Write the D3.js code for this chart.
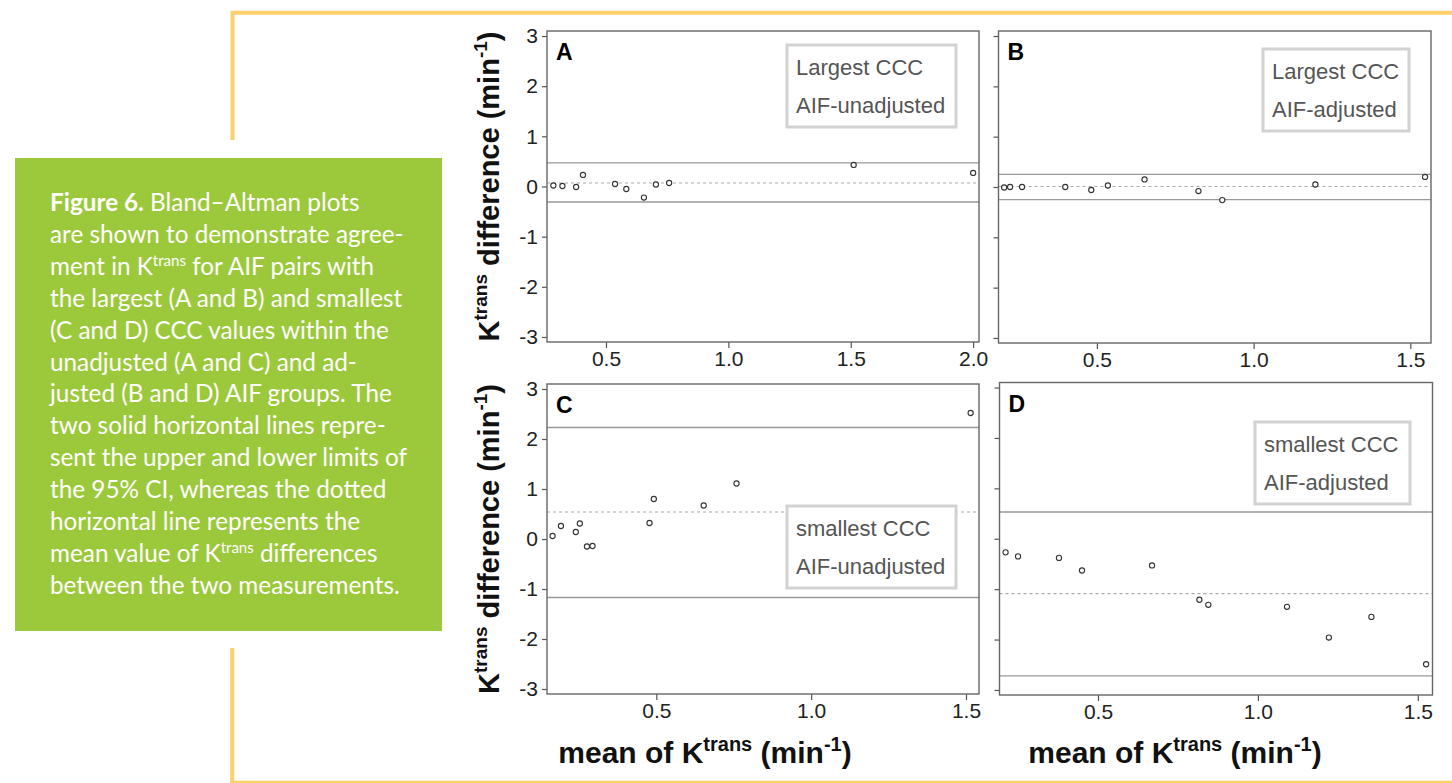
<!DOCTYPE html>
<html>
<head>
<meta charset="utf-8">
<script src="https://cdn.jsdelivr.net/npm/d3@7"></script>
<style>
  body { margin: 0; background: #fff; }
  svg { display: block; }
</style>
</head>
<body>
<div id="chart"></div>
<script>
// values (mean of Ktrans, difference of Ktrans)
const meanA = [0.285, 0.322, 0.378, 0.406, 0.537, 0.583, 0.655, 0.704, 0.758, 1.512, 2.0];
const diffA = [0.02, 0.01, -0.01, 0.23, 0.05, -0.05, -0.22, 0.04, 0.07, 0.43, 0.27];
const limitsA = [0.47, 0.07, -0.31];

const meanB = [0.204, 0.223, 0.261, 0.399, 0.482, 0.535, 0.652, 0.824, 0.900, 1.197, 1.547];
const diffB = [-0.01, 0.0, 0.0, 0.0, -0.06, 0.03, 0.15, -0.08, -0.26, 0.05, 0.20];
const limitsB = [0.25, 0.01, -0.25];

const meanC = [0.165, 0.192, 0.240, 0.253, 0.276, 0.294, 0.478, 0.492, 0.653, 0.759, 1.515];
const diffC = [0.06, 0.26, 0.14, 0.31, -0.15, -0.14, 0.32, 0.80, 0.67, 1.11, 2.52];
const limitsC = [2.23, 0.54, -1.17];

const meanD = [0.211, 0.250, 0.378, 0.450, 0.669, 0.817, 0.845, 1.091, 1.222, 1.355, 1.526];
const diffD = [-0.27, -0.35, -0.38, -0.63, -0.53, -1.21, -1.31, -1.35, -1.96, -1.55, -2.49];
const limitsD = [0.53, -1.09, -2.72];

// axis extents and ticks
const xDomainA = [0.259, 2.024];
const xDomainB = [0.186, 1.566];
const xDomainC = [0.147, 1.542];
const xDomainD = [0.192, 1.546];
const yDomain = [-3.1, 3.1];
const xTicksA = [0.5, 1.0, 1.5, 2.0];
const xTicksOther = [0.5, 1.0, 1.5];
const yTicks = [-3, -2, -1, 0, 1, 2, 3];

const legendA = ["Largest CCC", "AIF-unadjusted"];
const legendB = ["Largest CCC", "AIF-adjusted"];
const legendC = ["smallest CCC", "AIF-unadjusted"];
const legendD = ["smallest CCC", "AIF-adjusted"];

const captionLines = [
  "Figure 6. Bland\u2013Altman plots",
  "are shown to demonstrate agree-",
  "ment in Ktrans for AIF pairs with",
  "the largest (A and B) and smallest",
  "(C and D) CCC values within the",
  "unadjusted (A and C) and ad-",
  "justed (B and D) AIF groups. The",
  "two solid horizontal lines repre-",
  "sent the upper and lower limits of",
  "the 95% CI, whereas the dotted",
  "horizontal line represents the",
  "mean value of Ktrans differences",
  "between the two measurements."
];

const svgWidth = 1452, svgHeight = 783;
const font = "'Liberation Sans', Arial, sans-serif";

const svg = d3.select("#chart").append("svg")
  .attr("width", svgWidth)
  .attr("height", svgHeight);

// yellow page frame
const frame = svg.append("g").attr("stroke", "#fcd06a").attr("fill", "none");
frame.append("line").attr("x1", 231).attr("x2", svgWidth).attr("y1", 12.8).attr("y2", 12.8).attr("stroke-width", 4);
frame.append("line").attr("x1", 232.5).attr("x2", 232.5).attr("y1", 11).attr("y2", 140).attr("stroke-width", 4);
frame.append("line").attr("x1", 232.2).attr("x2", 232.2).attr("y1", 648).attr("y2", svgHeight).attr("stroke-width", 4);
frame.append("line").attr("x1", 230).attr("x2", svgWidth).attr("y1", 782).attr("y2", 782).attr("stroke-width", 2.5);

// green caption box
svg.append("rect")
  .attr("x", 15).attr("y", 158)
  .attr("width", 427).attr("height", 473)
  .attr("fill", "#9cc93b");

const caption = svg.append("text")
  .attr("font-family", "Lato, 'Open Sans', sans-serif")
  .attr("font-size", 24.3)
  .attr("fill", "#fff");

captionLines.forEach((line, i) => {
  const row = caption.append("tspan").attr("x", 50).attr("y", 211 + i * 31.9);
  let rest = line;
  if (i === 0) {
    row.append("tspan").attr("font-weight", "bold").text("Figure 6.");
    rest = line.slice("Figure 6.".length);
  }
  rest.split("Ktrans").forEach((part, j) => {
    if (j > 0) {
      row.append("tspan").text("K");
      row.append("tspan").attr("font-size", 15).attr("dy", -9).text("trans");
      row.append("tspan").attr("dy", 9).text(part);
    } else {
      row.append("tspan").text(part);
    }
  });
});

// panel layout
const panels = [
  {letter: "A", mean: meanA, diff: diffA, limits: limitsA, legend: legendA, xDomain: xDomainA, xTicks: xTicksA,
   left: 547, top: 31, width: 432, height: 311, yLabels: true, box: [787, 45, 169, 82]},
  {letter: "B", mean: meanB, diff: diffB, limits: limitsB, legend: legendB, xDomain: xDomainB, xTicks: xTicksOther,
   left: 998.5, top: 31, width: 432.5, height: 312, yLabels: false, box: [1263, 49, 146, 82]},
  {letter: "C", mean: meanC, diff: diffC, limits: limitsC, legend: legendC, xDomain: xDomainC, xTicks: xTicksOther,
   left: 547, top: 384, width: 432, height: 310, yLabels: true, box: [787, 506, 169, 82]},
  {letter: "D", mean: meanD, diff: diffD, limits: limitsD, legend: legendD, xDomain: xDomainD, xTicks: xTicksOther,
   left: 999.5, top: 382.5, width: 433, height: 312.5, yLabels: false, box: [1255, 422, 155, 82]}
];

panels.forEach(p => {
  const g = svg.append("g").attr("transform", `translate(${p.left}, ${p.top})`);

  const xScale = d3.scaleLinear().domain(p.xDomain).range([0, p.width]);
  const yScale = d3.scaleLinear().domain(yDomain).range([p.height, 0]);

  // axes
  const xAxis = d3.axisBottom(xScale)
    .tickValues(p.xTicks)
    .tickSize(6)
    .tickPadding(3)
    .tickFormat(d3.format(".1f"));
  const yAxis = d3.axisLeft(yScale)
    .tickValues(yTicks)
    .tickSize(5)
    .tickPadding(4)
    .tickFormat(d => p.yLabels ? String(d) : "");

  const gx = g.append("g").attr("transform", `translate(0, ${p.height})`).call(xAxis);
  const gy = g.append("g").call(yAxis);
  [gx, gy].forEach(a => {
    a.select(".domain").remove();
    a.selectAll(".tick line").attr("stroke", "#555").attr("stroke-width", 1.2);
    a.selectAll(".tick text")
      .attr("font-family", font)
      .attr("font-size", 21)
      .attr("fill", "#222");
  });

  // 95% limits and mean difference
  g.selectAll(".limit")
    .data(p.limits)
    .enter()
    .append("line")
    .attr("class", "limit")
    .attr("x1", 0)
    .attr("x2", p.width)
    .attr("y1", d => yScale(d))
    .attr("y2", d => yScale(d))
    .attr("stroke", (d, i) => i === 1 ? "#aaa" : "#999")
    .attr("stroke-width", (d, i) => i === 1 ? 1.2 : 1.4)
    .attr("stroke-dasharray", (d, i) => i === 1 ? "3,3" : null);

  // points
  g.selectAll("circle")
    .data(p.mean.map((m, i) => ({mean: m, diff: p.diff[i]})))
    .enter()
    .append("circle")
    .attr("cx", d => xScale(d.mean))
    .attr("cy", d => yScale(d.diff))
    .attr("r", 2.6)
    .attr("fill", "#fff")
    .attr("stroke", "#333")
    .attr("stroke-width", 1.1);

  // box around plot
  g.append("rect")
    .attr("width", p.width)
    .attr("height", p.height)
    .attr("fill", "none")
    .attr("stroke", "#666")
    .attr("stroke-width", 1.4);

  // panel letter
  g.append("text")
    .attr("x", 9)
    .attr("y", 29)
    .attr("font-family", font)
    .attr("font-weight", "bold")
    .attr("font-size", 23)
    .attr("fill", "#000")
    .text(p.letter);

  // legend
  const [bx, by, bw, bh] = p.box;
  svg.append("rect")
    .attr("x", bx).attr("y", by)
    .attr("width", bw).attr("height", bh)
    .attr("fill", "#fff")
    .attr("stroke", "#d2d2d2")
    .attr("stroke-width", 3);
  svg.selectAll(null)
    .data(p.legend)
    .enter()
    .append("text")
    .attr("x", bx + 9)
    .attr("y", (d, i) => by + 30 + i * 37.5)
    .attr("font-family", font)
    .attr("font-size", 22)
    .attr("fill", "#555")
    .text(d => d);
});

// axis titles
function addKtrans(t, before, after, sup) {
  t.append("tspan").text(before + "K");
  t.append("tspan").attr("font-size", sup).attr("dy", -12).text("trans");
  t.append("tspan").attr("dy", 12).text(after + " (min");
  t.append("tspan").attr("font-size", sup).attr("dy", -12).text("-1");
  t.append("tspan").attr("dy", 12).text(")");
}

[186.5, 539].forEach(cy => {
  const t = svg.append("text")
    .attr("transform", `translate(499, ${cy}) rotate(-90)`)
    .attr("text-anchor", "middle")
    .attr("font-family", font)
    .attr("font-weight", "bold")
    .attr("font-size", 29)
    .attr("fill", "#111");
  addKtrans(t, "", " difference", 19);
});

[705, 1175].forEach(cx => {
  const t = svg.append("text")
    .attr("x", cx)
    .attr("y", 763)
    .attr("text-anchor", "middle")
    .attr("font-family", font)
    .attr("font-weight", "bold")
    .attr("font-size", 30)
    .attr("fill", "#111");
  addKtrans(t, "mean of ", "", 20);
});
</script>
</body>
</html>
